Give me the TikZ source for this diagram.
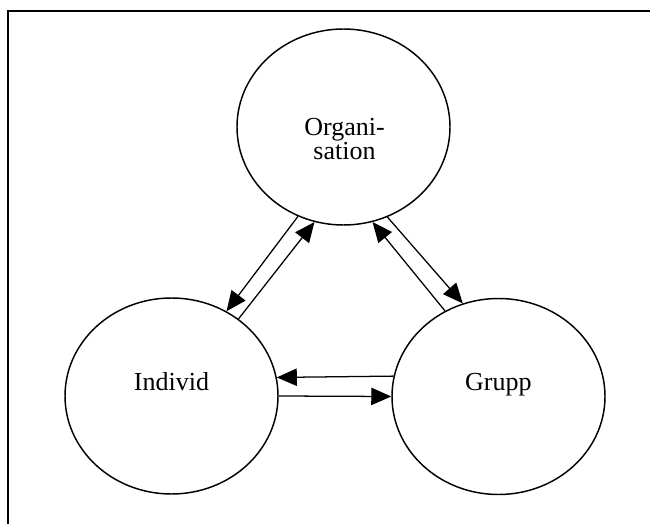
\documentclass[tikz,border=0pt]{standalone}
\usepackage{fontspec}
\setmainfont{Liberation Serif}
\usetikzlibrary{arrows.meta,shapes.geometric}

\begin{document}
\begin{tikzpicture}
    [x=0.75pt,y=-0.75pt,
    bubble/.style={ellipse,draw,line width=1.1pt,inner sep=0pt,
        minimum width=159.75pt,minimum height=147pt},
    caption/.style={align=center,inner sep=0pt,
        font=\fontsize{19.5}{18.5}\selectfont},
    post/.style={-{Triangle[length=15pt,width=13pt]},line width=0.95pt}]
    \useasboundingbox (0,0) rectangle (650,524);
    % frame
    \draw[line width=1.5pt] (8,524) -- (8,11) -- (650,11);
    % the three circles
    \node[bubble] (org) at (343.5,127) {};
    \node[bubble] (ind) at (171.5,396) {};
    \node[bubble] (grp) at (498.5,396.5) {};
    \node[caption] (org text) at (344.5,139) {Organi-\\sation};
    \node[caption] (ind text) at (171.5,382) {Individ};
    \node[caption] (grp text) at (498.3,384.7) {Grupp};
    % relations
    \draw[post] (org.243.4) -- (ind.57.9);
    \draw[post] (ind.49.1) -- (org.253);
    \draw[post] (grp.122.2) -- (org.287.8);
    \draw[post] (org.296.8) -- (grp.111);
    \draw[post] (grp.169) -- (ind.10.7);
    \draw[post] (ind.east) -- (grp.west);
\end{tikzpicture}
\end{document}
